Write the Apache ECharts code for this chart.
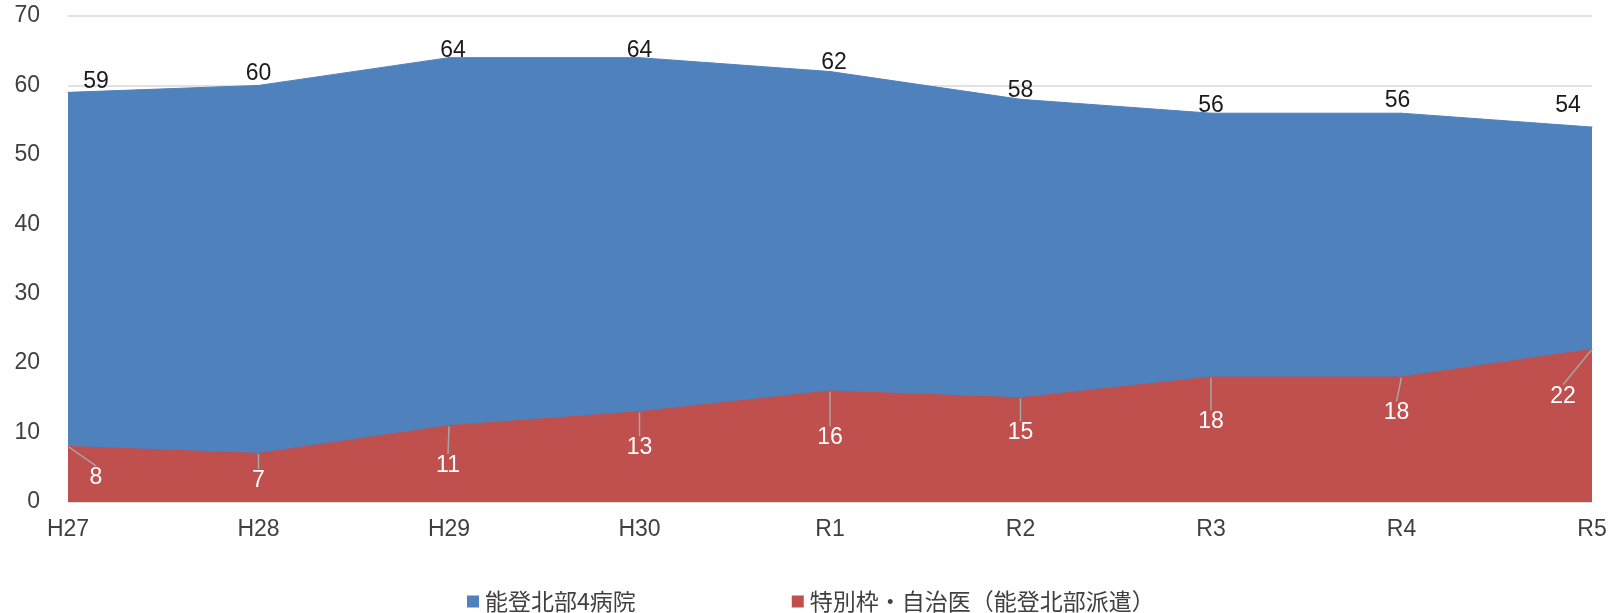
<!DOCTYPE html>
<html>
<head>
<meta charset="utf-8">
<script src="https://cdn.jsdelivr.net/npm/echarts@6/dist/echarts.min.js"></script>
<style>html,body{margin:0;padding:0;background:#fff}#c{width:1614px;height:613px}</style>
</head>
<body>
<div id="c"></div>
<script>
const categories = ['H27','H28','H29','H30','R1','R2','R3','R4','R5'];
const hospitalTotal = [59,60,64,64,62,58,56,56,54];
const dispatched = [8,7,11,13,16,15,18,18,22];
const seriesNames = ['能登北部4病院','特別枠・自治医（能登北部派遣）'];
const yTicks = {min:0, max:70, interval:10};

// label offsets (style only)
const blueOffsets = [[28,-11],[0,-12],[4,-7],[0,-7],[4,-9],[0,-9],[0,-8],[-4,-13],[-24,-21]];
const redOffsets = [[28,31],[0,27],[-1,40],[0,36],[0,47],[0,35],[0,45],[-5,36],[-29,47]];

const chart = echarts.init(document.getElementById('c'));
const font = '"Liberation Sans", Arial, sans-serif';
chart.setOption({
  animation:false,
  grid:{left:68,right:22,top:16,bottom:111},
  legend:{
    left:462, top:585, padding:5, itemWidth:12, itemHeight:12, itemGap:156,
    icon:'rect',
    textStyle:{fontFamily:'"Noto Sans CJK JP", sans-serif', fontSize:23, color:'#404040', padding:[0,0,0,1]},
    data:seriesNames
  },
  xAxis:{
    type:'category', data:categories, boundaryGap:false,
    axisLine:{lineStyle:{color:'#d9d9d9', width:1.5}},
    axisTick:{show:false},
    axisLabel:{fontFamily:font, fontSize:23, color:'#404040', margin:16}
  },
  yAxis:{
    type:'value', min:yTicks.min, max:yTicks.max, interval:yTicks.interval,
    axisLine:{show:false}, axisTick:{show:false},
    splitLine:{lineStyle:{color:'#d9d9d9', width:1.5}},
    axisLabel:{fontFamily:font, fontSize:23, color:'#404040', margin:28}
  },
  series:[
    {
      name:seriesNames[0], type:'line', data:hospitalTotal,
      symbol:'circle', symbolSize:1, showSymbol:true,
      itemStyle:{color:'#4f81bd'},
      lineStyle:{color:'#4f81bd', width:1},
      areaStyle:{color:'#4f81bd', opacity:1},
      label:{show:true, position:'inside', fontFamily:font, fontSize:23, color:'#1a1a1a'},
      labelLayout:function(p){const o=blueOffsets[p.dataIndex];return {dx:o[0],dy:o[1]};}
    },
    {
      name:seriesNames[1], type:'line', data:dispatched,
      symbol:'circle', symbolSize:1, showSymbol:true,
      itemStyle:{color:'#c0504d'},
      lineStyle:{color:'#c0504d', width:1},
      areaStyle:{color:'#c0504d', opacity:1},
      label:{show:true, position:'inside', fontFamily:font, fontSize:23, color:'#ffffff'},
      labelLine:{show:true, lineStyle:{color:'#a6a6a6', width:1.5}},
      labelLayout:function(p){const o=redOffsets[p.dataIndex];return {dx:o[0],dy:o[1]};}
    }
  ]
});
</script>
</body>
</html>
